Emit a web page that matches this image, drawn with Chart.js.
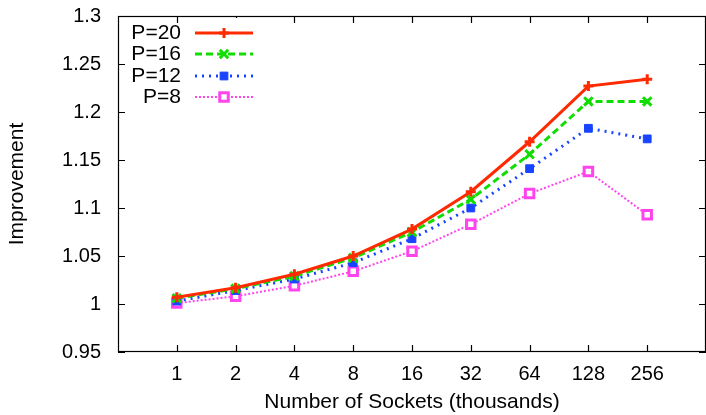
<!DOCTYPE html>
<html>
<head>
<meta charset="utf-8">
<script src="https://cdn.jsdelivr.net/npm/chart.js@4/dist/chart.umd.min.js"></script>
<style>
  html, body { margin: 0; padding: 0; background: #fff; overflow: hidden; }
  #clip { position: relative; width: 706px; height: 415px; overflow: hidden; }
  #box { position: absolute; left: 0; top: 0; width: 1000px; height: 800px; }
  canvas { display: block; }
</style>
</head>
<body>
<div id="clip"><div id="box"><canvas id="chart" width="706" height="415"></canvas></div></div>
<script>
// x positions 1..9, labelled by socket count (thousands)
const sockets = ['1', '2', '4', '8', '16', '32', '64', '128', '256']
const yTicks = [0.95, 1, 1.05, 1.1, 1.15, 1.2, 1.25, 1.3]

const p20 = [1.007, 1.017, 1.031, 1.050, 1.078, 1.117, 1.169, 1.227, 1.234]
const p16 = [1.006, 1.016, 1.029, 1.048, 1.075, 1.109, 1.156, 1.211, 1.211]
const p12 = [1.003, 1.014, 1.026, 1.043, 1.068, 1.100, 1.141, 1.183, 1.172]
const p8  = [1.001, 1.008, 1.019, 1.034, 1.055, 1.083, 1.115, 1.138, 1.093]

const FONT = '"Liberation Sans", Arial, Helvetica, sans-serif'
// wanted plot frame inside the 706x415 window
const AREA = {left: 118, top: 16, right: 706, bottom: 352}

function pts(vals){
  return vals.map((v, i) => ({x: i + 1, y: v}))
}

const datasets = [
  {label: 'P=20', data: pts(p20), borderColor: '#ff2a00', backgroundColor: '#ff2a00',
   borderWidth: 3, pointStyle: 'cross', pointRadius: 5, pointBorderWidth: 3},
  {label: 'P=16', data: pts(p16), borderColor: '#11dd00', backgroundColor: '#11dd00',
   borderWidth: 3, borderDash: [7, 4], pointStyle: 'crossRot', pointRadius: 6, pointBorderWidth: 3},
  {label: 'P=12', data: pts(p12), borderColor: '#1844ff', backgroundColor: '#1844ff',
   borderWidth: 3, borderDash: [2, 5], pointStyle: 'rect', pointRadius: 5.5, pointBorderWidth: 1},
  {label: 'P=8', data: pts(p8), borderColor: '#ff44ee', backgroundColor: '#ffffff',
   borderWidth: 2, borderDash: [2, 2], pointStyle: 'rect', pointRadius: 6, pointBorderWidth: 3}
]
datasets.forEach(d => { d.fill = false; d.tension = 0; d.pointBackgroundColor = d.backgroundColor })

let shift = {x: 0, y: 0}

// gnuplot-like frame with inward ticks on all four sides, and key
const frame = {
  id: 'frame',
  afterDraw(chart){
    const ctx = chart.ctx
    const a = chart.chartArea
    const xs = chart.scales.x, ys = chart.scales.y
    ctx.save()
    ctx.strokeStyle = '#000'
    ctx.lineWidth = 1.2
    ctx.strokeRect(a.left + 0.5, a.top + 0.5, a.right - a.left - 1, a.bottom - a.top - 1)
    ctx.beginPath()
    yTicks.forEach(v => {
      const y = Math.round(ys.getPixelForValue(v)) + 0.5
      ctx.moveTo(a.left, y); ctx.lineTo(a.left + 7, y)
      ctx.moveTo(a.right, y); ctx.lineTo(a.right - 7, y)
    })
    sockets.forEach((s, i) => {
      const x = Math.round(xs.getPixelForValue(i + 1)) + 0.5
      ctx.moveTo(x, a.bottom); ctx.lineTo(x, a.bottom - 7)
      ctx.moveTo(x, a.top); ctx.lineTo(x, a.top + 7)
    })
    ctx.stroke()

    // key, placed relative to the window
    const ox = shift.x, oy = shift.y
    ctx.fillStyle = '#fff'
    ctx.fillRect(188 + ox, a.top + 2, 72, 92)
    ctx.font = '21px ' + FONT
    ctx.textAlign = 'right'
    ctx.textBaseline = 'middle'
    const rows = [33, 54, 76, 97]
    chart.data.datasets.forEach((d, i) => {
      const y = rows[i] + oy
      ctx.fillStyle = '#000'
      ctx.fillText(d.label, 181 + ox, y)
      ctx.save()
      ctx.strokeStyle = d.borderColor
      ctx.lineWidth = d.borderWidth
      ctx.setLineDash(d.borderDash || [])
      ctx.beginPath(); ctx.moveTo(195 + ox, y); ctx.lineTo(253 + ox, y); ctx.stroke()
      ctx.restore()
      ctx.save()
      ctx.strokeStyle = d.borderColor
      ctx.fillStyle = d.pointBackgroundColor
      ctx.lineWidth = d.pointBorderWidth
      Chart.helpers.drawPoint(ctx, {pointStyle: d.pointStyle, radius: d.pointRadius, rotation: 0, borderWidth: d.pointBorderWidth}, 224 + ox, y)
      ctx.restore()
    })
    ctx.restore()
  }
}

const canvas = document.getElementById('chart')
const box = document.getElementById('box')
const chart = new Chart(canvas, {
  type: 'line',
  data: {datasets: datasets},
  plugins: [frame],
  options: {
    responsive: false,
    maintainAspectRatio: false,
    animation: false,
    layout: {padding: 0},
    plugins: {legend: {display: false}, tooltip: {enabled: false}},
    scales: {
      x: {
        type: 'linear', min: 0, max: 10,
        afterBuildTicks: s => { s.ticks = sockets.map((l, i) => ({value: i + 1})) },
        afterFit: s => { s.height = 63 },
        grid: {display: false, drawTicks: false},
        border: {display: false},
        ticks: {color: '#000', font: {family: FONT, size: 20}, padding: 10, maxRotation: 0,
                callback: (v) => sockets[v - 1]},
        title: {display: true, text: 'Number of Sockets (thousands)', color: '#000',
                font: {family: FONT, size: 21}, padding: 0}
      },
      y: {
        min: 0.95, max: 1.3,
        afterBuildTicks: s => { s.ticks = yTicks.map(v => ({value: v})) },
        afterFit: s => { s.width = 118 },
        grid: {display: false, drawTicks: false},
        border: {display: false},
        ticks: {color: '#000', font: {family: FONT, size: 20}, padding: 17,
                callback: v => String(Math.round(v * 100) / 100)},
        title: {display: true, text: 'Improvement', color: '#000',
                font: {family: FONT, size: 21}, padding: 5}
      }
    }
  }
})

// Chart.js reserves room for edge labels; grow the canvas and slide it so
// the plot frame lands where the reference has it (a few passes settle it)
for (let pass = 0; pass < 5; pass++) {
  const a = chart.chartArea
  const ox = Math.round(a.left - AREA.left)
  const oy = Math.round(a.top - AREA.top)
  const w = Math.round(canvas.width + (AREA.right + ox - a.right))
  const h = Math.round(canvas.height + (AREA.bottom + oy - a.bottom))
  shift = {x: ox, y: oy}
  box.style.left = (-ox) + 'px'
  box.style.top = (-oy) + 'px'
  if (w === canvas.width && h === canvas.height) { chart.draw(); break }
  chart.resize(w, h)
}
</script>
</body>
</html>
